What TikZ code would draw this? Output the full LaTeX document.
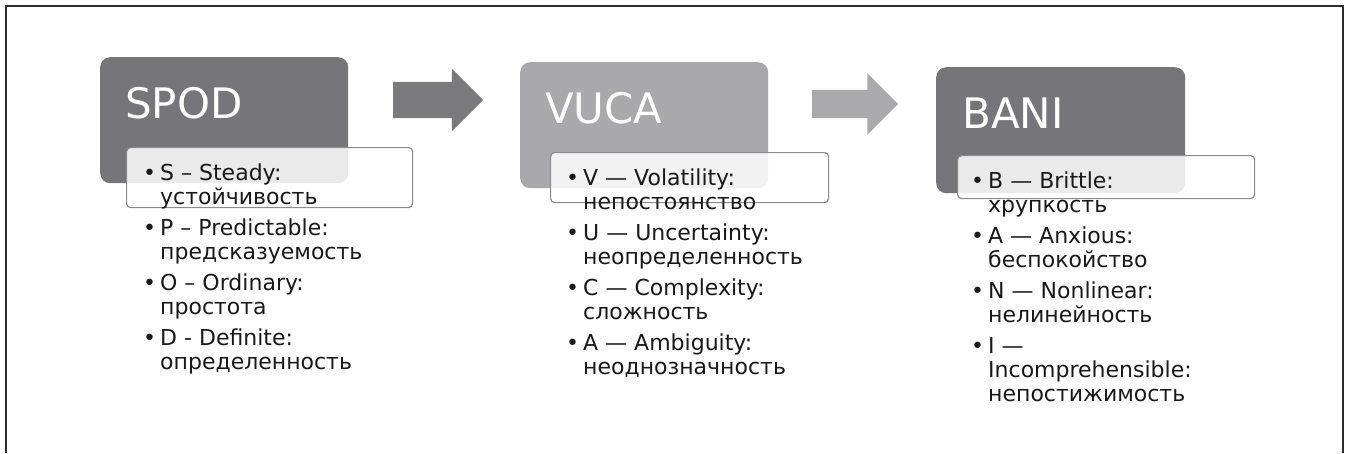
\documentclass[tikz,border=0pt]{standalone}
\usepackage{fontspec}
\setmainfont{DejaVu Sans}
\usepackage{xcolor}
\usepackage{tikz}
\usetikzlibrary{arrows.meta, positioning, shapes}

\definecolor{darkbox}{RGB}{118,118,122}
\definecolor{lightbox}{RGB}{169,169,171}
\definecolor{darkarrow}{RGB}{122,122,124}
\definecolor{lightarrow}{RGB}{170,170,172}
\definecolor{subgray}{RGB}{140,140,140}
\definecolor{ink}{RGB}{25,25,25}
\definecolor{frame}{RGB}{45,45,45}

\newcommand{\bul}{\makebox[17pt][l]{•}}
\newcommand{\ind}{\hspace*{17pt}}

\begin{document}
\begin{tikzpicture}[
    x=1pt, y=-1pt,
    headbox/.style={rectangle, rounded corners=10pt, inner sep=0pt, anchor=north west},
    headtext/.style={anchor=base west, inner sep=0pt, text=white, font=\fontsize{42}{42}\selectfont},
    subbox/.style={rectangle, rounded corners=4pt, draw=subgray, line width=1.2pt, fill=white, fill opacity=0.85, inner sep=0pt, anchor=north west},
    items/.style={anchor=north west, inner sep=0pt, align=left, text=ink, font=\fontsize{22}{24}\selectfont},
    blockarrow/.style={single arrow, inner xsep=0pt, single arrow tip angle=90, anchor=center}
  ]
    \useasboundingbox (0,0) rectangle (1348,453);
    \draw[frame, line width=2.5pt] (6,453) -- (6,6) -- (1343,6) -- (1343,453);

    % SPOD
    \node[headbox, fill=darkbox, minimum width=248, minimum height=126] (spod) at (100,57) {};
    \node[headtext] (spodt) at (125,118) {SPOD};
    \node[subbox, minimum width=286, minimum height=60] (spodsub) at (126,147) {};
    \node[items] (spodlist) at (143,163.3) {%
      \bul S – Steady:\\ \ind устойчивость\\[7pt]
      \bul P – Predictable:\\ \ind предсказуемость\\[7pt]
      \bul O – Ordinary:\\ \ind простота\\[7pt]
      \bul D - Definite:\\ \ind определенность};

    % VUCA
    \node[headbox, fill=lightbox, minimum width=248, minimum height=126] (vuca) at (520,62) {};
    \node[headtext] (vucat) at (545,123) {VUCA};
    \node[subbox, minimum width=278, minimum height=50] (vucasub) at (550,152) {};
    \node[items] (vucalist) at (566,168.3) {%
      \bul V — Volatility:\\ \ind непостоянство\\[7pt]
      \bul U — Uncertainty:\\ \ind неопределенность\\[7pt]
      \bul C — Complexity:\\ \ind сложность\\[7pt]
      \bul A — Ambiguity:\\ \ind неоднозначность};

    % BANI
    \node[headbox, fill=darkbox, minimum width=249, minimum height=126] (bani) at (936,67) {};
    \node[headtext] (banit) at (962,128) {BANI};
    \node[subbox, minimum width=297, minimum height=43] (banisub) at (957,155) {};
    \node[items] (banilist) at (971,171.3) {%
      \bul B — Brittle:\\ \ind хрупкость\\[7pt]
      \bul A — Anxious:\\ \ind беспокойство\\[7pt]
      \bul N — Nonlinear:\\ \ind нелинейность\\[7pt]
      \bul I —\\ \ind Incomprehensible:\\ \ind непостижимость};

    % block arrows
    \node[blockarrow, fill=darkarrow, inner ysep=18pt, minimum height=90, single arrow head extend=13pt] (arr1) at (429,100) {};
    \node[blockarrow, fill=lightarrow, inner ysep=14pt, minimum height=86, single arrow head extend=16.5pt] (arr2) at (848,104) {};
  \end{tikzpicture}
\end{document}
